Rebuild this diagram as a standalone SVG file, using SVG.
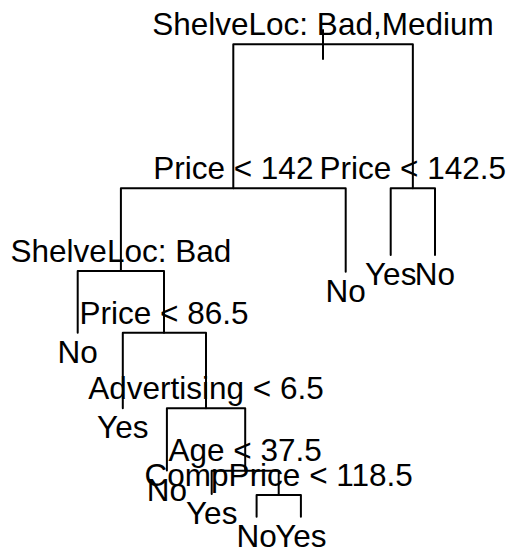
<svg xmlns="http://www.w3.org/2000/svg" width="508" height="550" viewBox="0 0 508 550">
<style>
.e{fill:none;stroke:#000;stroke-width:2;stroke-linejoin:round;stroke-linecap:round}
text{font-family:"Liberation Sans",Arial,sans-serif;font-size:31.5px;fill:#000;text-anchor:middle}
</style>
<rect width="508" height="550" fill="#fff"/>
<g id="connectors">
<line class="e" x1="323" y1="30" x2="323" y2="59"/>
<polyline class="e" points="233.3,188.3 233.3,44.3 412.85,44.3 412.85,188.3"/>
<polyline class="e" points="120.9,271 120.9,188.3 345.7,188.3 345.7,271.7"/>
<polyline class="e" points="390.7,255 390.7,188.3 435,188.3 435,255"/>
<polyline class="e" points="77.7,332.7 77.7,271 164,271 164,332.7"/>
<polyline class="e" points="122.8,408.3 122.8,332.7 206,332.7 206,408.3"/>
<polyline class="e" points="166.9,470.5 166.9,408.3 245.2,408.3 245.2,470.7"/>
<polyline class="e" points="211.7,494 211.7,470.7 278.7,470.7 278.7,495"/>
<polyline class="e" points="256.6,516.7 256.6,495 300.9,495 300.9,516.7"/>
</g>
<g id="n1"><text x="323" y="35">ShelveLoc: Bad,Medium</text></g>
<g id="n2"><text x="233.3" y="179">Price &lt; 142</text></g>
<g id="n3"><text x="412.85" y="179">Price &lt; 142.5</text></g>
<g id="n4"><text x="120.9" y="261.5">ShelveLoc: Bad</text></g>
<g id="n5"><text x="345.7" y="301.7">No</text></g>
<g id="n6"><text x="390.7" y="285">Yes</text></g>
<g id="n7"><text x="435" y="285">No</text></g>
<g id="n8"><text x="77.7" y="362.7">No</text></g>
<g id="n9"><text x="164" y="323.5">Price &lt; 86.5</text></g>
<g id="n18"><text x="122.8" y="438.3">Yes</text></g>
<g id="n19"><text x="206" y="399">Advertising &lt; 6.5</text></g>
<g id="n38"><text x="166.9" y="500.5">No</text></g>
<g id="n39"><text x="245.2" y="461">Age &lt; 37.5</text></g>
<g id="n78"><text x="211.7" y="524">Yes</text></g>
<g id="n79"><text x="278.7" y="485.5">CompPrice &lt; 118.5</text></g>
<g id="n158"><text x="256.6" y="546.7">No</text></g>
<g id="n159"><text x="300.9" y="546.7">Yes</text></g>
</svg>
